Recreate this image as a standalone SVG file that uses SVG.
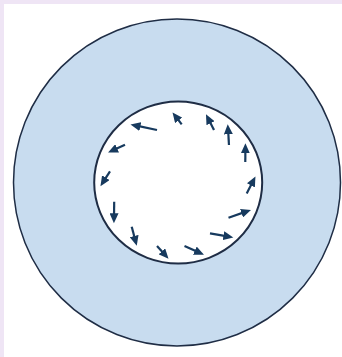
<svg xmlns="http://www.w3.org/2000/svg" width="342" height="357" viewBox="0 0 342 357">
<style>
.bg{fill:#efe5f5}
.outer{fill:#c8dcef;stroke:#1f2d45;stroke-width:1.5}
.inner{fill:#ffffff;stroke:#1f2d45;stroke-width:2}
.arr{fill:none;stroke:#173a5e;stroke-width:2.2;marker-end:url(#ah)}
</style>
<defs>
<marker id="ah" markerUnits="userSpaceOnUse" markerWidth="11" markerHeight="9" refX="4" refY="4.5" orient="auto">
<path d="M0,0 L10,4.5 L0,9 z" fill="#173a5e"/>
</marker>
</defs>
<rect class="bg" x="0" y="0" width="342" height="357"/>
<rect x="4" y="4" width="338" height="353" fill="#ffffff"/>
<g id="outer-circle"><circle class="outer" cx="177" cy="182.5" r="163.5"/></g>
<g id="inner-circle"><ellipse class="inner" cx="178.2" cy="182.5" rx="84" ry="81"/></g>
<g id="connectors">
<line class="arr" x1="157" y1="130" x2="136.4" y2="125.7"/>
<line class="arr" x1="181.7" y1="124.3" x2="176.2" y2="117.2"/>
<line class="arr" x1="214" y1="130" x2="208.7" y2="119.6"/>
<line class="arr" x1="229" y1="145" x2="228.1" y2="130.3"/>
<line class="arr" x1="245.3" y1="162" x2="245.4" y2="149.3"/>
<line class="arr" x1="246.7" y1="193.5" x2="252.7" y2="181.8"/>
<line class="arr" x1="228.5" y1="217.7" x2="245.3" y2="211.9"/>
<line class="arr" x1="210" y1="233.3" x2="227.4" y2="236.4"/>
<line class="arr" x1="184.5" y1="246" x2="198.5" y2="252.3"/>
<line class="arr" x1="157" y1="246" x2="164.5" y2="254.3"/>
<line class="arr" x1="131.7" y1="226.7" x2="135.2" y2="239.9"/>
<line class="arr" x1="114.2" y1="201.7" x2="114" y2="217.3"/>
<line class="arr" x1="110" y1="171.3" x2="103.7" y2="181.1"/>
<line class="arr" x1="125" y1="144.7" x2="113.5" y2="150"/>
</g>
</svg>
